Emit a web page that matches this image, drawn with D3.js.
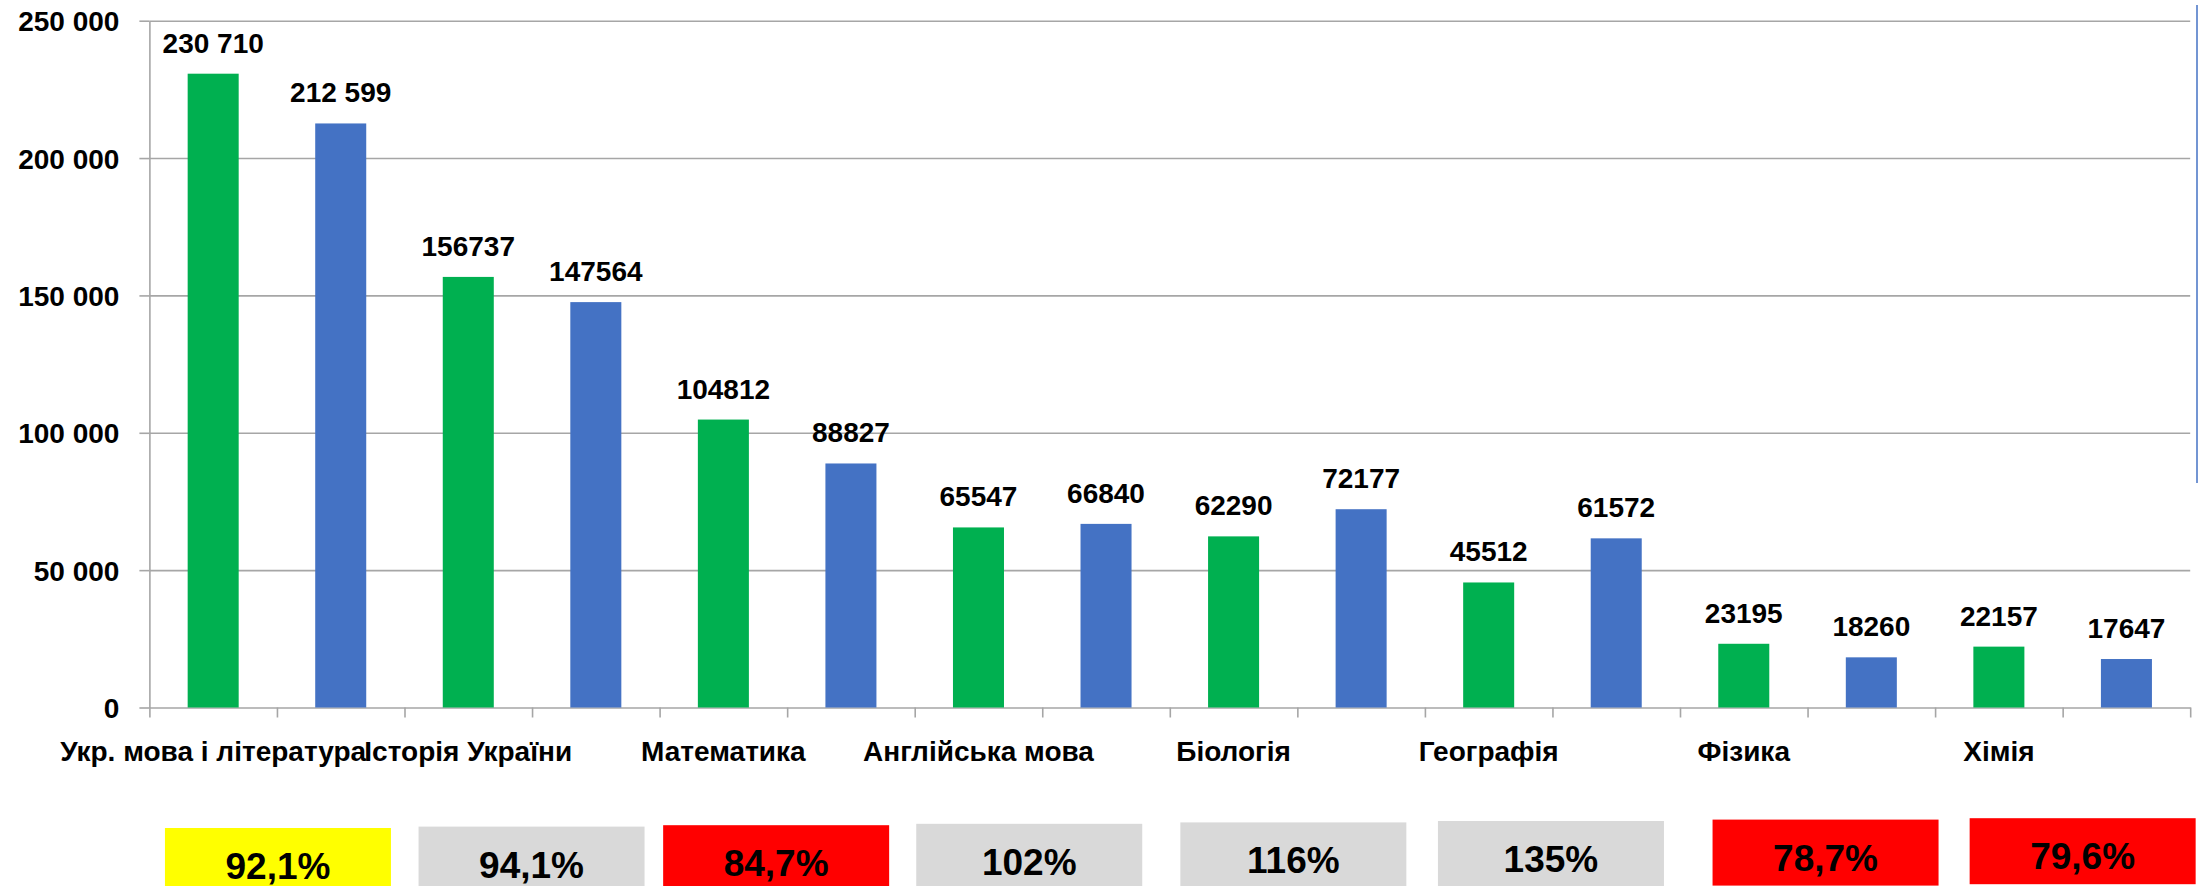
<!DOCTYPE html>
<html>
<head>
<meta charset="utf-8">
<script src="https://cdn.jsdelivr.net/npm/d3@7"></script>
<style>
  body { margin: 0; background: #fff; }
  svg text { font-family: "Liberation Sans", Arial, sans-serif; font-weight: bold; fill: #000; }
</style>
</head>
<body>
<div id="chart"></div>
<script>
// data
const subjects = ["Укр. мова і література", "Історія України", "Математика", "Англійська мова",
                  "Біологія", "Географія", "Фізика", "Хімія"];
const greenValues = [230710, 156737, 104812, 65547, 62290, 45512, 23195, 22157];
const blueValues  = [212599, 147564, 88827, 66840, 72177, 61572, 18260, 17647];
const greenLabels = ["230 710", "156737", "104812", "65547", "62290", "45512", "23195", "22157"];
const blueLabels  = ["212 599", "147564", "88827", "66840", "72177", "61572", "18260", "17647"];
const yTicks = [0, 50000, 100000, 150000, 200000, 250000];
const pctLabels = ["92,1%", "94,1%", "84,7%", "102%", "116%", "135%", "78,7%", "79,6%"];
const pctFills  = ["#FFFF00", "#D9D9D9", "#FF0000", "#D9D9D9", "#D9D9D9", "#D9D9D9", "#FF0000", "#FF0000"];

const green = "#00B050", blue = "#4472C4";

// layout
const W = 2205, H = 886;
const plot = {left: 149.4, right: 2190.2, top: 20.7, bottom: 707.5};
// the percentage boxes are hand placed on the slide, a little off the pair centres
const boxNudge = [1, -0.5, -11, -13, -4, -1.5, 18, 20];

// one slot per bar: green then blue for each subject
const bars = [];
subjects.forEach((s, i) => {
  bars.push({slot: 2 * i,     value: greenValues[i], label: greenLabels[i], color: green});
  bars.push({slot: 2 * i + 1, value: blueValues[i],  label: blueLabels[i],  color: blue});
});

const x = d3.scaleBand()
    .domain(d3.range(bars.length))
    .range([plot.left, plot.right])
    .paddingInner(0.6)
    .paddingOuter(0.3);

// slot boundaries for the category ticks
const xEdges = d3.scaleLinear().domain([0, bars.length]).range([plot.left, plot.right]);

const y = d3.scaleLinear().domain([0, 250000]).range([plot.bottom, plot.top]);

const fmt = d => d3.format(",")(d).replace(/,/g, " ");

const svg = d3.select("#chart").append("svg")
    .attr("width", W)
    .attr("height", H);

// grid
svg.append("g")
    .attr("transform", `translate(${plot.left},0)`)
    .call(d3.axisLeft(y).tickValues(yTicks.slice(1)).tickSize(-(plot.right - plot.left)).tickFormat(""))
    .call(g => g.select(".domain").remove())
    .call(g => g.selectAll("line").attr("stroke", "#A6A6A6").attr("stroke-width", 1.6));

// y axis
svg.append("g")
    .attr("transform", `translate(${plot.left},0)`)
    .call(d3.axisLeft(y).tickValues(yTicks).tickSize(10).tickSizeOuter(0).tickPadding(20).tickFormat(fmt))
    .call(g => g.select(".domain").attr("stroke", "#A6A6A6").attr("stroke-width", 1.6))
    .call(g => g.selectAll("line").attr("stroke", "#A6A6A6").attr("stroke-width", 1.6))
    .call(g => g.selectAll("text").style("font-size", "28px").attr("dy", "0.36em"));

// x axis with ticks between slots
svg.append("g")
    .attr("transform", `translate(0,${plot.bottom})`)
    .call(d3.axisBottom(xEdges).tickValues(d3.range(bars.length + 1)).tickSize(10).tickSizeOuter(0).tickFormat(""))
    .call(g => g.select(".domain").attr("stroke", "#A6A6A6").attr("stroke-width", 1.6))
    .call(g => g.selectAll("line").attr("stroke", "#A6A6A6").attr("stroke-width", 1.6));

// bars
svg.append("g").selectAll("rect")
  .data(bars)
  .join("rect")
    .attr("x", d => x(d.slot))
    .attr("width", x.bandwidth())
    .attr("y", d => y(d.value))
    .attr("height", d => y(0) - y(d.value))
    .attr("fill", d => d.color);

// value labels
svg.append("g").selectAll("text")
  .data(bars)
  .join("text")
    .attr("x", d => x(d.slot) + x.bandwidth() / 2)
    .attr("y", d => y(d.value) - 21)
    .attr("text-anchor", "middle")
    .style("font-size", "28px")
    .text(d => d.label);

// category labels, one per subject under its green bar
svg.append("g").selectAll("text")
  .data(subjects)
  .join("text")
    .attr("x", (d, i) => x(2 * i) + x.bandwidth() / 2)
    .attr("y", 760.5)
    .attr("text-anchor", "middle")
    .style("font-size", "28px")
    .text(d => d);

// percentage boxes under each subject pair
const boxW = 226, boxH = 66;
const pairCenter = i => xEdges(2 * i + 1) + boxNudge[i];
const boxes = svg.append("g").selectAll("g")
  .data(pctLabels)
  .join("g")
    .attr("transform", (d, i) => `translate(${pairCenter(i) - boxW / 2},${828 - i * 1.4})`);

boxes.append("rect")
    .attr("width", boxW)
    .attr("height", boxH)
    .attr("fill", (d, i) => pctFills[i]);

boxes.append("text")
    .attr("x", boxW / 2)
    .attr("y", 51)
    .attr("text-anchor", "middle")
    .style("font-size", "37px")
    .text(d => d);

// thin blue rule at the right edge of the slide
svg.append("line")
    .attr("x1", 2197).attr("x2", 2197)
    .attr("y1", 5).attr("y2", 483)
    .attr("stroke", blue)
    .attr("stroke-width", 1.5);
</script>
</body>
</html>
